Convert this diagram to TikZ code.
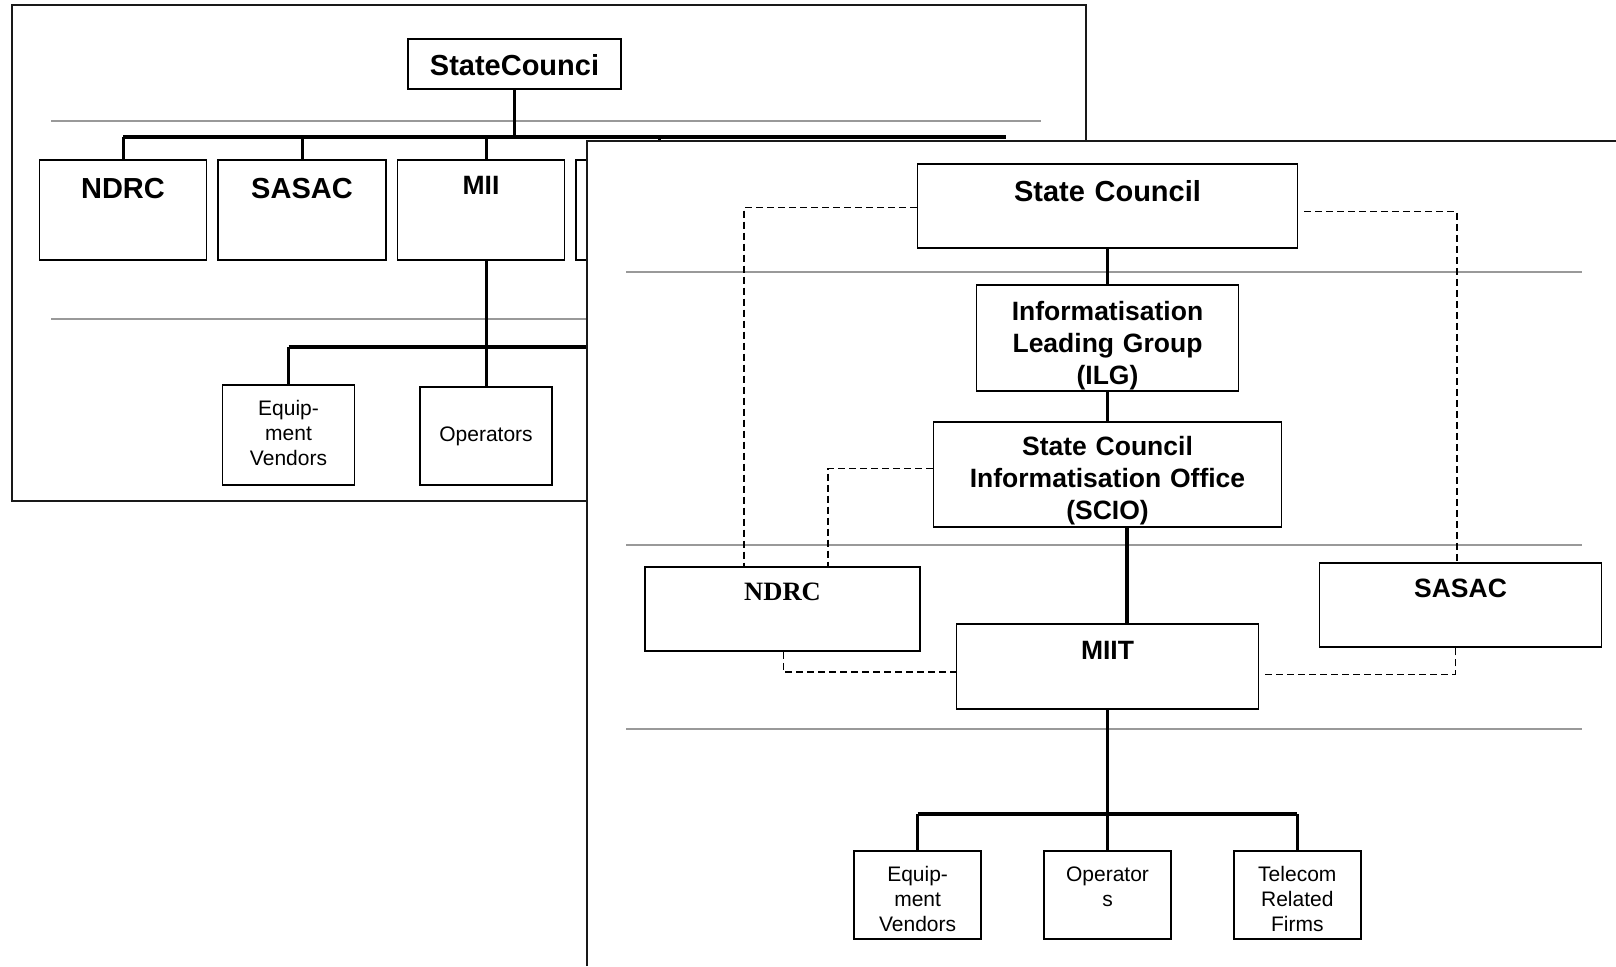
\documentclass[tikz,border=0pt]{standalone}
\usepackage{fontspec}
\setmainfont{Liberation Sans}
\newfontfamily\ndrcfont{Liberation Serif}

\begin{document}
\begin{tikzpicture}[
x=1pt, y=-1pt,
box/.style={draw, line width=1.9pt, inner sep=0pt, align=center, anchor=north},
dims/.style n args={3}{text width=#1pt, text height=#2pt, text depth=#3pt},
big/.style={font=\fontsize{29}{34}\selectfont\bfseries},
mid/.style={font=\fontsize{26.5}{32}\selectfont\bfseries},
small/.style={font=\fontsize{21}{25}\selectfont},
link/.style={line width=3pt},
bus/.style={line width=3.8pt},
tie/.style={line width=1.5pt, dash pattern=on 7pt off 4pt},
rule/.style={black!40, line width=2pt},
frame/.style={black!90, line width=2pt}]
\useasboundingbox (0,0) rectangle (1616,966);
% Back sheet
\draw[frame] (12,5) rectangle (1086,501);
\draw[rule] (51,120.7) -- (1041,120.7);
\draw[rule] (51,319.3) -- (1041,319.3);
\node[box, big, dims={213}{37}{13}] (sc0) at (514.5,38) {StateCounci};
\node[box, big, dims={167}{38}{61.4}] (ndrc0) at (123,159.3) {NDRC};
\node[box, big, dims={168}{38}{61.4}] (sasac0) at (302,159.3) {SASAC};
\node[box, mid, dims={167}{34}{65.4}] (mii0) at (481,159.3) {MII};
\node[box, dims={167}{38}{61.4}] (box0) at (659.5,159.3) {};
\node[box, small, dims={132}{31}{69}] (eq0) at (288.5,384) {Equip-\\ment\\Vendors};
\node[box, small, dims={132}{55}{43.3}] (op0) at (486,385.7) {Operators};
\coordinate (bus0) at (514.5,137);
\coordinate (bus0e) at (1006,137);
\coordinate (bus1) at (486,347);
\coordinate (bus1e) at (620,347);
\draw[link] (sc0.south) -- (bus0);
\draw[bus] (ndrc0.north |- bus0) -- (bus0e);
\draw[link] (ndrc0.north) -- (ndrc0.north |- bus0);
\draw[link] (sasac0.north) -- (sasac0.north |- bus0);
\draw[link] ([xshift=5pt]mii0.north) -- ([xshift=5pt]mii0.north |- bus0);
\draw[link] (box0.north) -- (box0.north |- bus0);
\draw[link] ([xshift=5pt]mii0.south) -- (bus1);
\draw[bus] (eq0.north |- bus1) -- (bus1e);
\draw[link] (eq0.north) -- (eq0.north |- bus1);
\draw[link] (op0.north) -- (bus1);
% Front sheet
\fill[white] (587,141) rectangle (1616,966);
\draw[frame] (587,966) |- (1616,141);
\draw[rule] (626,271.7) -- (1581.6,271.7);
\draw[rule] (626,545.3) -- (1581.6,545.3);
\draw[rule] (626,729) -- (1581.6,729);
\node[box, big, dims={380}{37.5}{46.5}] (sc) at (1107.5,162.7) {State Council};
\node[box, mid, dims={262}{35.2}{70.8}] (ilg) at (1107.5,284) {Informatisation\\Leading Group\\(ILG)};
\node[box, mid, dims={348}{34}{71.3}] (scio) at (1107.5,420.7) {State Council\\Informatisation Office\\(SCIO)};
\node[box, dims={275.6}{33.5}{50.8}, font=\fontsize{26.5}{32}\selectfont\ndrcfont\bfseries] (ndrc) at (782.5,565.7) {NDRC};
\node[box, mid, dims={282}{34.5}{49.2}] (sasac) at (1460.5,562.3) {SASAC};
\node[box, mid, dims={302}{35}{49.4}] (miit) at (1107.5,623.3) {MIIT};
\node[box, small, dims={127}{30.8}{57.5}] (eq) at (917.6,850) {Equip-\\ment\\Vendors};
\node[box, small, dims={127}{30.8}{57.5}] (op) at (1107.5,850) {Operator\\s};
\node[box, small, dims={127}{30.8}{57.5}] (tel) at (1297.3,850) {Telecom\\Related\\Firms};
\coordinate (bus2) at (1107.5,814.3);
\draw[link] (sc) -- (ilg);
\draw[link] (ilg) -- (scio);
\draw[line width=3.4pt] ([xshift=19.5pt]scio.south) -- ([xshift=19.5pt]scio.south |- miit.north);
\draw[link] (miit) -- (op);
\draw[bus] (eq.north |- bus2) -- (tel.north |- bus2);
\draw[link] (eq.north) -- (eq.north |- bus2);
\draw[link] (tel.north) -- (tel.north |- bus2);
\draw[tie] ([yshift=-1.6pt]sc.west) -| ([xshift=-38.6pt]ndrc.north);
\draw[tie] ([yshift=6pt]scio.west) -| ([xshift=45.3pt]ndrc.north);
\draw[tie] ([xshift=6pt,yshift=-5.6pt]sc.east) -| ([xshift=-3.7pt]sasac.north);
\draw[tie] ([xshift=1pt]ndrc.south) |- ([yshift=-5.5pt]miit.west);
\draw[tie] ([xshift=6pt,yshift=-7.8pt]miit.east) -| ([xshift=-5pt]sasac.south);
\end{tikzpicture}
\end{document}
